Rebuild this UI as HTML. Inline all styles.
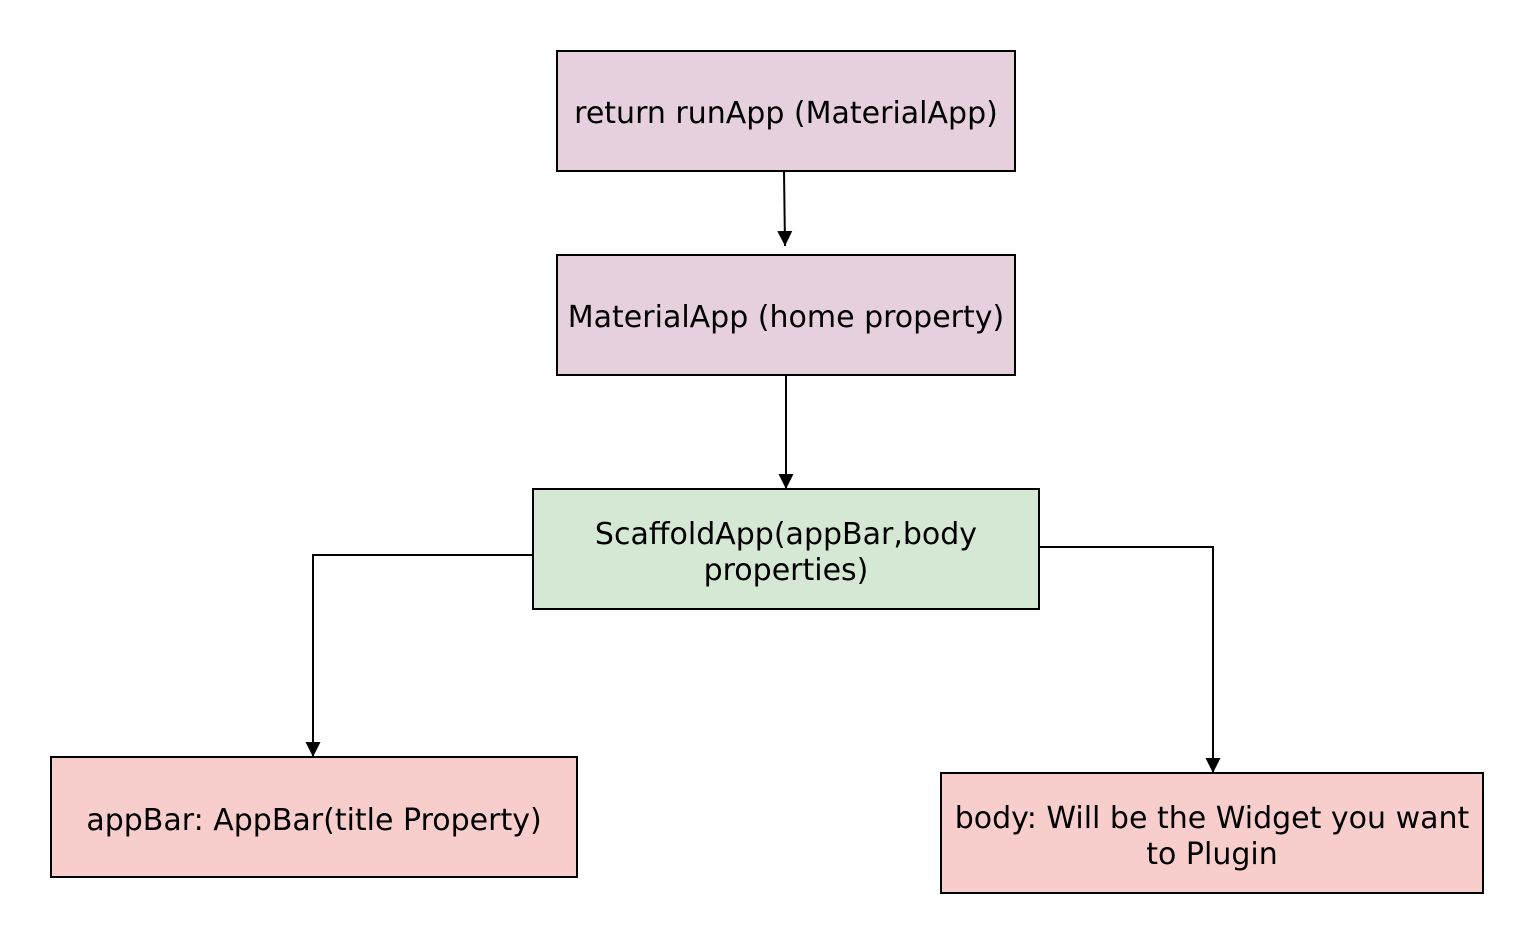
<!DOCTYPE html>
<html><head><style>
html,body{margin:0;padding:0;background:#fff;}
svg text{font-family:"DejaVu Sans","Liberation Sans",sans-serif;font-size:30px;fill:#000;}
</style></head><body>
<svg width="1534" height="944" xmlns="http://www.w3.org/2000/svg">
<defs>
<marker id="b" markerWidth="18" markerHeight="18" refX="15" refY="8" orient="auto" markerUnits="userSpaceOnUse"><path d="M0,0.5 L15,8 L0,15.5 z" fill="#000"/></marker></defs>
<rect x="557" y="51" width="458" height="120" fill="#E6D0DE" stroke="#000" stroke-width="2"/>
<rect x="557" y="255" width="458" height="120" fill="#E6D0DE" stroke="#000" stroke-width="2"/>
<rect x="533" y="489" width="506" height="120" fill="#D5E8D4" stroke="#000" stroke-width="2"/>
<rect x="51" y="757" width="526" height="120" fill="#F8CECC" stroke="#000" stroke-width="2"/>
<rect x="941" y="773" width="542" height="120" fill="#F8CECC" stroke="#000" stroke-width="2"/>
<g stroke="#000" stroke-width="2" fill="none">
<path d="M784 171 L785 246" marker-end="url(#b)"/>
<path d="M786 375 L786 489" marker-end="url(#b)"/>
<path d="M533 555 L313 555 L313 757" marker-end="url(#b)"/>
<path d="M1039 547 L1213 547 L1213 773" marker-end="url(#b)"/>
</g>
<text x="786" y="123" text-anchor="middle">return runApp (MaterialApp)</text>
<text x="786" y="327" text-anchor="middle">MaterialApp (home property)</text>
<text x="786" y="544" text-anchor="middle">ScaffoldApp(appBar,body</text>
<text x="786" y="580" text-anchor="middle">properties)</text>
<text x="314" y="830" text-anchor="middle">appBar: AppBar(title Property)</text>
<text x="1212" y="828" text-anchor="middle">body: Will be the Widget you want</text>
<text x="1212" y="864" text-anchor="middle">to Plugin</text>
</svg>
</body></html>
